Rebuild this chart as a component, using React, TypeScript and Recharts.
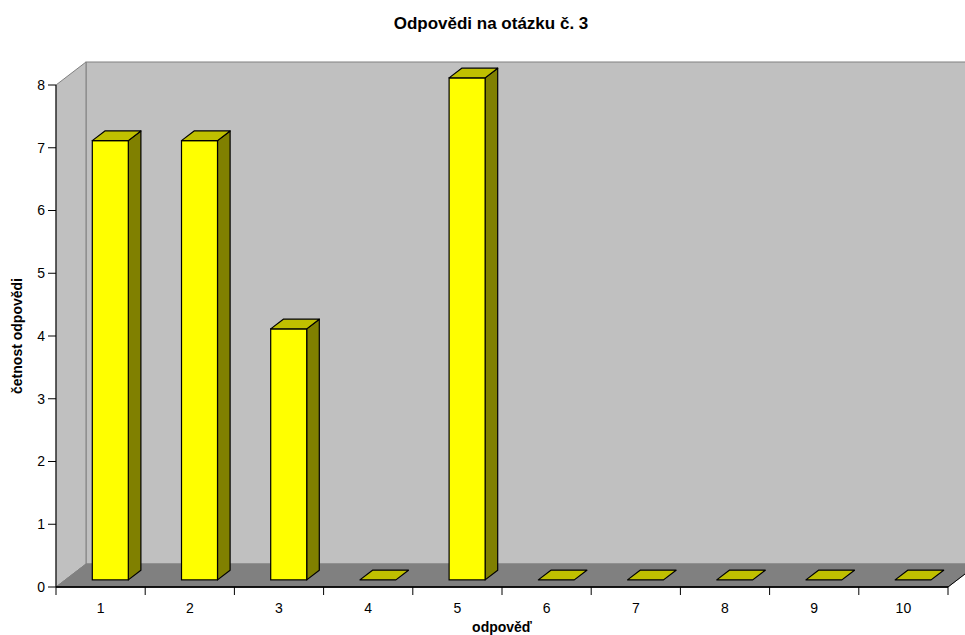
import React from 'react';
import { BarChart, Bar, XAxis, YAxis, ReferenceArea } from 'recharts';

const answers = ['1', '2', '3', '4', '5', '6', '7', '8', '9', '10'];
const counts = [7, 7, 4, 0, 8, 0, 0, 0, 0, 0];
const yTicks = [0, 1, 2, 3, 4, 5, 6, 7, 8];

const data = answers.map((name, i) => ({ name, count: counts[i] }));

const FONT = '"Liberation Sans", Arial, sans-serif';

// depth of the 3D box (back wall offset) and where the bars sit inside it
const DEPTH_X = 30;
const DEPTH_Y = -23;
const BAR_SHIFT = 0.31;
const BAR_DEPTH = 0.42;

const WALL = '#c0c0c0';
const FLOOR = '#808080';
const EDGE = '#808080';

const Walls = (props: any) => {
  const { x, y, width, height } = props;
  const left = x;
  const right = x + width;
  const top = y;
  const bottom = y + height;
  const band = width / answers.length;
  return (
    <g>
      {/* back wall */}
      <rect
        x={left + DEPTH_X}
        y={top + DEPTH_Y}
        width={width}
        height={height}
        fill={WALL}
        stroke={EDGE}
        strokeWidth={1}
      />
      {/* side wall */}
      <polygon
        points={`${left},${top} ${left + DEPTH_X},${top + DEPTH_Y} ${left + DEPTH_X},${bottom + DEPTH_Y} ${left},${bottom}`}
        fill={WALL}
        stroke={EDGE}
        strokeWidth={1}
      />
      {/* floor */}
      <polygon
        points={`${left},${bottom} ${left + DEPTH_X},${bottom + DEPTH_Y} ${right + DEPTH_X},${bottom + DEPTH_Y} ${right},${bottom}`}
        fill={FLOOR}
        stroke={EDGE}
        strokeWidth={1}
      />
      <line x1={right} y1={bottom} x2={right + DEPTH_X} y2={bottom + DEPTH_Y} stroke="#000" strokeWidth={1} />
      <line x1={left} y1={bottom} x2={right} y2={bottom} stroke="#000" strokeWidth={1.5} />
      {/* category separators below the axis */}
      {answers.concat(['']).map((_, i) => (
        <line
          key={i}
          x1={left + band * i}
          y1={bottom}
          x2={left + band * i}
          y2={bottom + 8}
          stroke="#000"
          strokeWidth={1}
        />
      ))}
    </g>
  );
};

const Box = (props: any) => {
  const { x, y, width, height } = props;
  const ox = DEPTH_X * BAR_SHIFT;
  const oy = DEPTH_Y * BAR_SHIFT;
  const bx = DEPTH_X * BAR_DEPTH;
  const by = DEPTH_Y * BAR_DEPTH;
  const fx = x + ox;
  const fy = y + oy;
  const h = Math.max(0, height || 0);
  return (
    <g>
      {h > 0 && (
        <polygon
          points={`${fx + width},${fy} ${fx + width + bx},${fy + by} ${fx + width + bx},${fy + h + by} ${fx + width},${fy + h}`}
          fill="#808000"
          stroke="#000"
          strokeWidth={1.2}
          strokeLinejoin="round"
        />
      )}
      {h > 0 && (
        <rect x={fx} y={fy} width={width} height={h} fill="#ffff00" stroke="#000" strokeWidth={1.2} />
      )}
      <polygon
        points={`${fx},${fy} ${fx + bx},${fy + by} ${fx + width + bx},${fy + by} ${fx + width},${fy}`}
        fill="#c0c000"
        stroke="#000"
        strokeWidth={1.2}
        strokeLinejoin="round"
      />
    </g>
  );
};

const YLabel = (props: any) => {
  const vb = props.viewBox || {};
  const cx = vb.x + 11;
  const cy = vb.y + vb.height / 2;
  return (
    <text
      x={cx}
      y={cy}
      transform={`rotate(-90 ${cx} ${cy})`}
      textAnchor="middle"
      dominantBaseline="central"
      fontFamily={FONT}
      fontSize={14}
      fontWeight="bold"
      fill="#000"
    >
      četnost odpovědi
    </text>
  );
};

const XLabel = (props: any) => {
  const vb = props.viewBox || {};
  return (
    <text
      x={vb.x + vb.width / 2}
      y={vb.y + 45}
      textAnchor="middle"
      fontFamily={FONT}
      fontSize={14}
      fontWeight="bold"
      fill="#000"
    >
      odpověď
    </text>
  );
};

export default function App() {
  return (
    <div
      style={{
        position: 'absolute',
        left: 0,
        top: 0,
        width: 965,
        height: 635,
        background: '#fff',
        fontFamily: FONT,
      }}
    >
      <div
        style={{
          position: 'absolute',
          left: 0,
          top: 14,
          width: 982,
          textAlign: 'center',
          fontSize: 17,
          fontWeight: 'bold',
          lineHeight: '20px',
        }}
      >
        Odpovědi na otázku č. 3
      </div>
      <BarChart
        width={965}
        height={635}
        data={data}
        margin={{ top: 85, right: 17, left: 6, bottom: 18 }}
        barSize={36}
      >
        <ReferenceArea y1={0} y2={8} shape={<Walls />} ifOverflow="visible" />
        <XAxis
          dataKey="name"
          height={30}
          axisLine={{ stroke: '#000' }}
          tickLine={false}
          tickMargin={10}
          tick={{ fill: '#000', fontSize: 14, fontFamily: FONT }}
          label={<XLabel />}
        />
        <YAxis
          width={50}
          domain={[0, 8]}
          ticks={yTicks}
          interval={0}
          tickSize={8}
          tickMargin={3}
          axisLine={{ stroke: '#000' }}
          tickLine={{ stroke: '#000' }}
          tick={{ fill: '#000', fontSize: 14, fontFamily: FONT }}
          label={<YLabel />}
        />
        <Bar dataKey="count" shape={<Box />} isAnimationActive={false} />
      </BarChart>
    </div>
  );
}
